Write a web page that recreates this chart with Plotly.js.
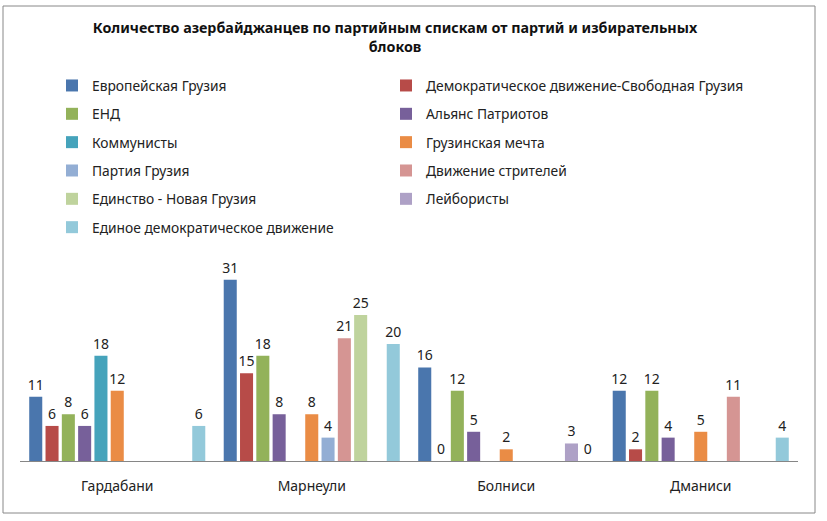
<!DOCTYPE html>
<html>
<head>
<meta charset="utf-8">
<script src="https://cdn.plot.ly/plotly-3.0.1.min.js"></script>
<style>html,body{margin:0;padding:0;background:#fff;}#chart{width:827px;height:521px;}</style>
</head>
<body>
<div id="chart"></div>
<script>
var categories = ["Гардабани", "Марнеули", "Болниси", "Дманиси"];
var seriesNames = [
  "Европейская Грузия",
  "Демократическое движение-Свободная Грузия",
  "ЕНД",
  "Альянс Патриотов",
  "Коммунисты",
  "Грузинская мечта",
  "Партия Грузия",
  "Движение стрителей",
  "Единство - Новая Грузия",
  "Лейбористы",
  "Единое демократическое движение"
];
var europeanGeorgia    = [11, 31, 16, 12];
var democraticMovement = [6, 15, 0, 2];
var end                = [8, 18, 12, 12];
var patriotsAlliance   = [6, 8, 5, 4];
var communists         = [18, null, null, null];
var georgianDream      = [12, 8, 2, 5];
var partyGeorgia       = [null, 4, null, null];
var buildersMovement   = [null, 21, null, 11];
var unityNewGeorgia    = [null, 25, null, null];
var labourists         = [null, null, 3, null];
var unitedDemocratic   = [6, 20, 0, 4];
var seriesValues = [europeanGeorgia, democraticMovement, end, patriotsAlliance, communists,
  georgianDream, partyGeorgia, buildersMovement, unityNewGeorgia, labourists, unitedDemocratic];
var colors = ["#4A76AD", "#B74B48", "#93B25A", "#77609A", "#45A3BB", "#EA8C45",
  "#93AED4", "#D59593", "#BFD39D", "#AEA1C6", "#93C9DA"];
var titleText = "Количество азербайджанцев по партийным спискам от партий и избирательных<br>блоков";

var FONT = "Noto Sans, DejaVu Sans, sans-serif";
var traces = seriesNames.map(function(name, i) {
  return {
    type: "bar",
    name: name,
    x: categories,
    y: seriesValues[i],
    text: seriesValues[i].map(function(v){ return v === null ? "" : String(v); }),
    textposition: "outside",
    constraintext: "none",
    cliponaxis: false,
    textfont: {family: FONT, size: 14, color: "#222"},
    marker: {color: colors[i]},
    legend: (i % 2 === 0) ? "legend" : "legend2",
    legendgroup: "g" + i,
    hoverinfo: "skip"
  };
});

var L = 20, R = 29, T = 250, B = 60, W = 827, H = 521;
var pw = W - L - R, ph = H - T - B;
function legendBox(xpx) {
  return {
    orientation: "v",
    traceorder: "grouped",
    tracegroupgap: 7.4,
    xref: "container", x: xpx / W, xanchor: "left",
    yref: "container", y: 1 - 70 / H, yanchor: "top",
    font: {family: FONT, size: 13.8, color: "#222"},
    bgcolor: "rgba(0,0,0,0)",
    itemclick: false, itemdoubleclick: false
  };
}
var layout = {
  width: W, height: H,
  margin: {l: L, r: R, t: T, b: B, pad: 0, autoexpand: false},
  paper_bgcolor: "#fff", plot_bgcolor: "#fff",
  font: {family: FONT, size: 13, color: "#222"},
  barmode: "group",
  bargap: 0.078,
  bargroupgap: 0.2,
  showlegend: true,
  hovermode: false,
  title: {
    text: titleText,
    font: {family: FONT, size: 14.3, color: "#111", weight: "bold"},
    x: 395 / W, xanchor: "center", xref: "container",
    y: 1 - 33 / H, yanchor: "top", yref: "container"
  },
  legend: legendBox(52),
  legend2: legendBox(386),
  xaxis: {
    type: "category",
    showline: true, linecolor: "#868686", linewidth: 1,
    showgrid: false, zeroline: false,
    ticks: "", ticklabelstandoff: 12,
    tickfont: {family: FONT, size: 14, color: "#222"},
    automargin: false,
    fixedrange: true
  },
  yaxis: {
    range: [0, 36.1],
    visible: false,
    showgrid: false, zeroline: false,
    automargin: false,
    fixedrange: true
  },
  shapes: [{
    type: "rect", xref: "paper", yref: "paper",
    x0: (3 - L) / pw, x1: (815 - L) / pw,
    y0: (H - B - 513) / ph, y1: (H - B - 6) / ph,
    line: {color: "#888888", width: 1},
    fillcolor: "rgba(0,0,0,0)",
    layer: "below"
  }]
};

Plotly.newPlot("chart", traces, layout, {displayModeBar: false, staticPlot: true});
</script>
</body>
</html>
